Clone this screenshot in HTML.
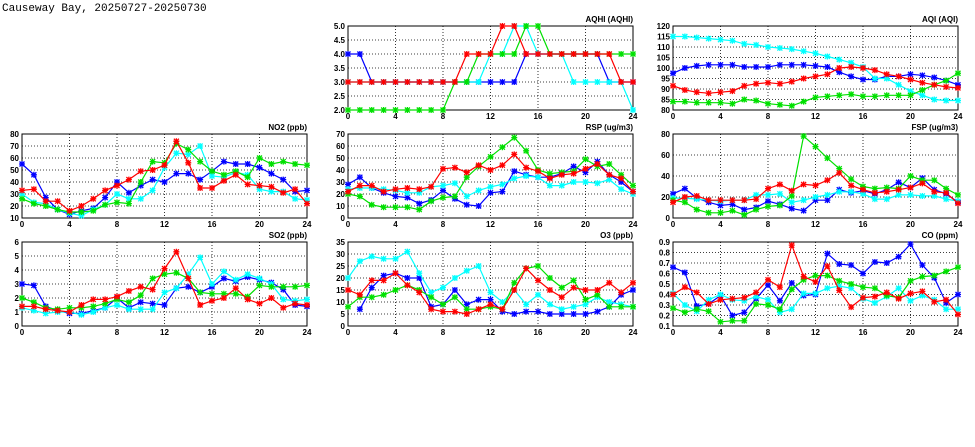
<!DOCTYPE html>
<html><head><meta charset="utf-8"><style>
body{margin:0;background:#fff;width:975px;height:447px;overflow:hidden}
svg{display:block}
text{font-family:"Liberation Sans",sans-serif;font-weight:bold;font-size:8px;fill:#000}
</style></head><body>
<svg id="c" width="975" height="447" viewBox="0 0 975 447">
<text x="2" y="11" style="font-family:'Liberation Mono',monospace;font-weight:normal;font-size:11px">Causeway Bay, 20250727-20250730</text>
</svg>
<script>
const hours=[0,1,2,3,4,5,6,7,8,9,10,11,12,13,14,15,16,17,18,19,20,21,22,23,24];
const seriesColors=["#0000ff","#00ffff","#00e000","#ff0000"];
const aqhiBlue=[4,4,3,3,3,3,3,3,3,3,3,3,3,3,3,4,4,4,4,4,4,4,3,3,3];
const aqhiCyan=[3,3,3,3,3,3,3,3,3,3,3,3,4,4,5,5,4,4,4,3,3,3,3,3,2];
const aqhiGreen=[2,2,2,2,2,2,2,2,2,3,3,4,4,4,4,5,5,4,4,4,4,4,4,4,4];
const aqhiRed=[3,3,3,3,3,3,3,3,3,3,4,4,4,5,5,4,4,4,4,4,4,4,4,3,3];
const aqiBlue=[97.5,100,101,101.5,101.5,101.5,100.5,100.5,100.5,101.5,101.5,101.5,101,100.5,98,96,94.5,94.5,96,96,97,96.5,95.5,94,92];
const aqiCyan=[115,115,114.5,114,113.5,113,111.5,111,110,109.5,109,108,107,105.5,104,102.5,100.5,95,95,92,89,87,85,84.5,84.5];
const aqiGreen=[84,84,83.5,83.5,83.5,83,85,84.5,83,82.5,82,84,86,86.5,87,87.5,86.5,86.5,87,87,87,89.5,92,94,97.5];
const aqiRed=[91.5,89.5,88.5,88,88.5,89,91.5,92.5,93,92.5,93.5,95,96,97,100,100.5,100,99,97,96,94.5,93,92,91,90.5];
const no2Blue=[55,46,27,17,13,16,18,27,40,31,37,42,40,47,47,42,49,57,55,55,52,47,42,32,33];
const no2Cyan=[30,23,22,17,14,12,17,21,30,26,26,33,52,64,63,70,45,44,48,46,34,32,32,26,25];
const no2Green=[26,22,20,17,15,15,16,21,23,22,40,57,56,72,67,57,49,46,49,44,60,55,57,55,54];
const no2Red=[33,34,24,24,16,20,26,33,37,42,49,50,54,74,56,35,35,41,46,38,37,36,31,34,22];
const rspBlue=[28,34,25,21,18,17,12,15,23,16,11,10,21,22,39,36,34,34,37,43,38,47,36,30,22];
const rspCyan=[24,25,25,24,23,21,21,26,27,29,18,23,26,28,33,35,34,27,27,30,30,29,32,24,20];
const rspGreen=[20,18,11,9,9,9,7,14,17,18,34,43,51,59,67,56,40,37,38,39,49,43,45,36,27];
const rspRed=[22,27,27,22,24,25,24,26,41,42,38,44,40,44,53,42,39,33,36,37,41,45,36,33,22];
const fspBlue=[23,28,19,15,12,13,8,10,16,13,9,7,17,17,27,24,26,23,27,34,29,38,27,23,15];
const fspCyan=[19,19,18,17,16,17,17,22,22,23,15,17,20,22,25,25,23,18,18,22,22,21,21,18,16];
const fspGreen=[17,15,8,5,5,7,3,8,11,12,21,78,68,57,47,37,30,28,29,28,40,36,36,28,22];
const fspRed=[15,20,21,17,17,17,17,18,28,32,26,32,31,36,43,31,27,24,25,27,29,33,25,24,14];
const so2Blue=[3,2.9,1.4,1.1,0.9,0.9,1.1,1.3,2,1.3,1.7,1.6,1.5,2.7,2.8,2.4,2.8,3.4,3.2,3.5,3.3,3.1,2.6,1.5,1.4];
const so2Cyan=[1.3,1.1,0.9,1,1,0.8,1,1.3,1.5,1.2,1.2,1.2,2.4,2.7,3.7,4.9,3,3.9,3.3,3.7,3.4,3,1.9,1.8,1.9];
const so2Green=[2,1.7,1.3,1.2,1.3,1.3,1.4,1.6,1.9,1.7,2.2,3.4,3.7,3.8,3.4,2.4,2.3,2.3,2.3,2.1,2.9,2.8,2.8,2.8,2.9];
const so2Red=[1.4,1.4,1.2,1.1,1,1.5,1.9,1.9,2.1,2.5,2.8,2.6,4.1,5.3,3.4,1.5,1.8,2,2.7,1.9,1.6,2,1.3,1.6,1.5];
const o3Blue=[null,7,16,21,22,20,20,8,9,15,9,11,11,6,5,6,6,5,5,5,5,6,8,13,15];
const o3Cyan=[20,27,29,28,28,31,22,14,16,20,23,25,14,10,15,9,13,9,7,8,9,12,10,9,8];
const o3Green=[8,12,12,13,15,17,15,12,9,12,7,7,8,7,18,24,25,20,16,19,11,13,8,8,8];
const o3Red=[15,13,19,19,22,17,14,7,6,6,5,7,9,7,15,24,19,15,12,16,15,15,18,14,18];
const coBlue=[0.66,0.61,0.29,0.31,0.39,0.2,0.23,0.36,0.49,0.34,0.51,0.39,0.40,0.79,0.69,0.68,0.6,0.71,0.7,0.76,0.88,0.68,0.56,0.32,0.4];
const coCyan=[0.41,0.3,0.24,0.35,0.4,0.35,0.34,0.38,0.35,0.23,0.26,0.41,0.41,0.46,0.48,0.46,0.36,0.32,0.38,0.46,0.34,0.39,0.35,0.26,0.26];
const coGreen=[0.27,0.23,0.26,0.24,0.14,0.15,0.15,0.31,0.30,0.26,0.45,0.54,0.58,0.58,0.53,0.5,0.47,0.46,0.39,0.37,0.53,0.57,0.58,0.62,0.66];
const coRed=[0.4,0.47,0.42,0.31,0.35,0.36,0.37,0.42,0.54,0.47,0.87,0.57,0.52,0.67,0.44,0.28,0.37,0.38,0.42,0.36,0.41,0.43,0.33,0.35,0.21];
const xTickLabels=["0","4","8","12","16","20","24"];
const aqhiTicks=["2.0","2.5","3.0","3.5","4.0","4.5","5.0"];
const aqiTicks=["80","85","90","95","100","105","110","115","120"];
const no2Ticks=["10","20","30","40","50","60","70","80"];
const rspTicks=["0","10","20","30","40","50","60","70"];
const fspTicks=["0","20","40","60","80"];
const so2Ticks=["0","1","2","3","4","5","6"];
const o3Ticks=["0","5","10","15","20","25","30","35"];
const coTicks=["0.1","0.2","0.3","0.4","0.5","0.6","0.7","0.8","0.9"];

const NS="http://www.w3.org/2000/svg";
const svg=document.getElementById('c');
function mk(tag,attrs,parent){const e=document.createElementNS(NS,tag);for(const k in attrs)e.setAttribute(k,attrs[k]);parent.appendChild(e);return e;}
const panels=[
 {name:"aqhi",title:"AQHI (AQHI)",x:348,y:26,ticks:aqhiTicks,data:[aqhiBlue,aqhiCyan,aqhiGreen,aqhiRed]},
 {name:"aqi",title:"AQI (AQI)",x:673,y:26,ticks:aqiTicks,data:[aqiBlue,aqiCyan,aqiGreen,aqiRed]},
 {name:"no2",title:"NO2 (ppb)",x:22,y:134,ticks:no2Ticks,data:[no2Blue,no2Cyan,no2Green,no2Red]},
 {name:"rsp",title:"RSP (ug/m3)",x:348,y:134,ticks:rspTicks,data:[rspBlue,rspCyan,rspGreen,rspRed]},
 {name:"fsp",title:"FSP (ug/m3)",x:673,y:134,ticks:fspTicks,data:[fspBlue,fspCyan,fspGreen,fspRed]},
 {name:"so2",title:"SO2 (ppb)",x:22,y:242,ticks:so2Ticks,data:[so2Blue,so2Cyan,so2Green,so2Red]},
 {name:"o3",title:"O3 (ppb)",x:348,y:242,ticks:o3Ticks,data:[o3Blue,o3Cyan,o3Green,o3Red]},
 {name:"co",title:"CO (ppm)",x:673,y:242,ticks:coTicks,data:[coBlue,coCyan,coGreen,coRed]}
];
const W=285,H=84;
const seriesNames=["blue","cyan","green","red"];
panels.forEach(p=>{
 const g=mk('g',{},svg);
 
 
 const tmin=parseFloat(p.ticks[0]),tmax=parseFloat(p.ticks[p.ticks.length-1]);
 const sx=h=>p.x+h/24*W;
 const sy=v=>p.y+H-(v-tmin)/(tmax-tmin)*H;
 const grid=mk('g',{stroke:"#000","stroke-width":"0.8","stroke-dasharray":"1,2"},g);
 
 
 p.ticks.forEach((t,i)=>{
  const y=sy(parseFloat(t));
  if(i>0&&i<p.ticks.length-1)mk('line',{x1:p.x,x2:p.x+W,y1:y,y2:y},grid);
  const tx=mk('text',{x:p.x-3,y:y+3,"text-anchor":"end"},g);tx.textContent=t;
  
  
 });
 xTickLabels.forEach((t,i)=>{
  const h=parseFloat(t),x=sx(h);
  if(i>0&&i<xTickLabels.length-1)mk('line',{x1:x,x2:x,y1:p.y,y2:p.y+H},grid);
  const tx=mk('text',{x:x,y:p.y+H+9,"text-anchor":"middle"},g);tx.textContent=t;
  
  
 });
 const fr=mk('rect',{x:p.x,y:p.y,width:W,height:H,fill:"none",stroke:"#000","stroke-width":"1"},g);
 
 
 const tt=mk('text',{x:p.x+W,y:p.y-4,"text-anchor":"end"},g);tt.textContent=p.title;
 
 
 p.data.forEach((arr,si)=>{
  const col=seriesColors[si];
  const sg=mk('g',{},g);
  
  
  let d="";let pen=false;
  arr.forEach((v,i)=>{if(v==null){pen=false;return;}d+=(pen?"L":"M")+sx(hours[i]).toFixed(1)+","+sy(v).toFixed(1);pen=true;});
  mk('path',{d:d,fill:"none",stroke:col,"stroke-width":"1.2"},sg);
  arr.forEach((v,i)=>{
   if(v==null)return;
   const x=sx(hours[i]),y=sy(v);
   const m=mk('path',{d:`M${x-2.5},${y-2.5}L${x+2.5},${y+2.5}M${x-2.5},${y+2.5}L${x+2.5},${y-2.5}M${x-3},${y}L${x+3},${y}M${x},${y-3}L${x},${y+3}`,stroke:col,"stroke-width":"1.3"},sg);
   
   
  });
 });
});
</script>
</body></html>
